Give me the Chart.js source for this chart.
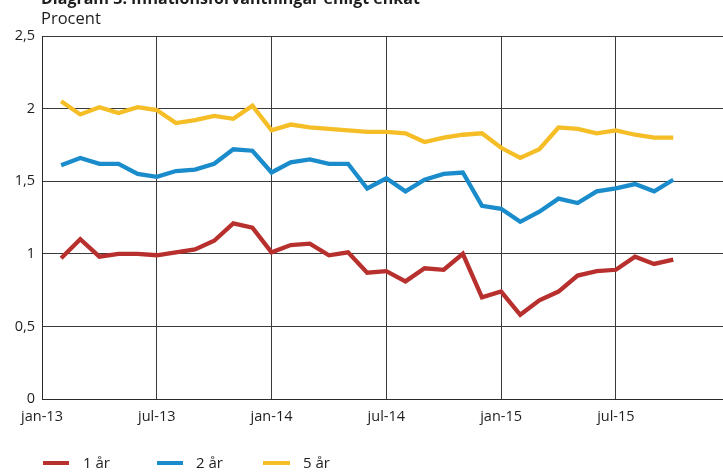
<!DOCTYPE html>
<html>
<head>
<meta charset="utf-8">
<script src="https://cdn.jsdelivr.net/npm/chart.js@4.4.1/dist/chart.umd.min.js"></script>
<style>
  html, body { margin: 0; padding: 0; background: #fff; }
  #wrap { position: relative; width: 723px; height: 474px; overflow: hidden; }
</style>
</head>
<body>
<div id="wrap"><canvas id="c" width="723" height="474"></canvas></div>
<script>
// Survey-based inflation expectations, monthly, per cent
const months = [
  '2013-02','2013-03','2013-04','2013-05','2013-06','2013-07','2013-08','2013-09','2013-10','2013-11','2013-12',
  '2014-01','2014-02','2014-03','2014-04','2014-05','2014-06','2014-07','2014-08','2014-09','2014-10','2014-11','2014-12',
  '2015-01','2015-02','2015-03','2015-04','2015-05','2015-06','2015-07','2015-08','2015-09','2015-10'
];
const oneYear = [0.97,1.10,0.98,1.00,1.00,0.99,1.01,1.03,1.09,1.21,1.18,
                 1.01,1.06,1.07,0.99,1.01,0.87,0.88,0.81,0.90,0.89,1.00,
                 0.70,0.74,0.58,0.68,0.74,0.85,0.88,0.89,0.98,0.93,0.96];
const twoYear = [1.61,1.66,1.62,1.62,1.55,1.53,1.57,1.58,1.62,1.72,1.71,
                 1.56,1.63,1.65,1.62,1.62,1.45,1.52,1.43,1.51,1.55,1.56,
                 1.33,1.31,1.22,1.29,1.38,1.35,1.43,1.45,1.48,1.43,1.51];
const fiveYear = [2.05,1.96,2.01,1.97,2.01,1.99,1.90,1.92,1.95,1.93,2.02,
                  1.85,1.89,1.87,1.86,1.85,1.84,1.84,1.83,1.77,1.80,1.82,
                  1.83,1.73,1.66,1.72,1.87,1.86,1.83,1.85,1.82,1.80,1.80];
const xTickLabels = ['jan-13','jul-13','jan-14','jul-14','jan-15','jul-15'];
const seriesNames = ['1 år','2 år','5 år'];

const COLORS = ['#b8302e', '#1a8ccb', '#f5bd26'];
const FONT = '"Open Sans", "Noto Sans", sans-serif';
const TEXT = '#1e1e1e';

// month index counted from January 2013
const monthIndex = m => (parseInt(m.slice(0, 4), 10) - 2013) * 12 + parseInt(m.slice(5, 7), 10) - 1;
const toPoints = vals => vals.map((v, i) => ({ x: monthIndex(months[i]), y: v }));

const headerAndLegend = {
  id: 'headerAndLegend',
  afterDraw(chart) {
    const ctx = chart.ctx;
    ctx.save();
    ctx.fillStyle = TEXT;
    ctx.textAlign = 'left';
    ctx.textBaseline = 'alphabetic';
    ctx.font = 'bold 16px ' + FONT;
    ctx.fillText('Diagram 3. Inflationsförväntningar enligt enkät', 41, 4);
    ctx.font = '16.5px ' + FONT;
    ctx.fillText('Procent', 41, 24);

    const items = [
      { x0: 43, x1: 69, tx: 83 },
      { x0: 157, x1: 183, tx: 196 },
      { x0: 263, x1: 290, tx: 303 }
    ];
    ctx.font = '15px ' + FONT;
    ctx.textBaseline = 'middle';
    items.forEach((it, i) => {
      ctx.strokeStyle = COLORS[i];
      ctx.lineWidth = 4;
      ctx.beginPath();
      ctx.moveTo(it.x0, 463);
      ctx.lineTo(it.x1, 463);
      ctx.stroke();
      ctx.fillStyle = TEXT;
      ctx.fillText(seriesNames[i], it.tx, 464);
    });
    ctx.restore();
  }
};

new Chart(document.getElementById('c'), {
  type: 'line',
  data: {
    datasets: [
      { label: seriesNames[0], data: toPoints(oneYear), borderColor: COLORS[0] },
      { label: seriesNames[1], data: toPoints(twoYear), borderColor: COLORS[1] },
      { label: seriesNames[2], data: toPoints(fiveYear), borderColor: COLORS[2] }
    ].map(d => Object.assign(d, { borderWidth: 4.3, pointRadius: 0, tension: 0, fill: false, borderJoinStyle: 'miter' }))
  },
  options: {
    responsive: false,
    animation: false,
    devicePixelRatio: 1,
    layout: { padding: { top: 36, left: 0, right: 0, bottom: 0 } },
    plugins: { legend: { display: false }, tooltip: { enabled: false }, title: { display: false } },
    scales: {
      x: {
        type: 'linear',
        min: 0,
        max: 35.6,
        afterBuildTicks: s => { s.ticks = xTickLabels.map((_, i) => ({ value: i * 6 })); },
        afterFit: s => { s.height = 75; },
        ticks: {
          callback: (v) => xTickLabels[Math.round(v / 6)],
          color: TEXT,
          font: { family: FONT, size: 14.5 },
          padding: 9,
          maxRotation: 0,
          autoSkip: false
        },
        grid: { color: '#3a3a3a', lineWidth: 1, drawTicks: false },
        border: { color: '#2a2a2a', width: 1 }
      },
      y: {
        min: 0,
        max: 2.5,
        afterFit: s => { s.width = 42; },
        ticks: {
          stepSize: 0.5,
          callback: v => String(v).replace('.', ','),
          color: TEXT,
          font: { family: FONT, size: 14.5 },
          padding: 7
        },
        grid: { color: '#3a3a3a', lineWidth: 1, drawTicks: false },
        border: { color: '#2a2a2a', width: 1 }
      }
    }
  },
  plugins: [headerAndLegend]
});
</script>
</body>
</html>
